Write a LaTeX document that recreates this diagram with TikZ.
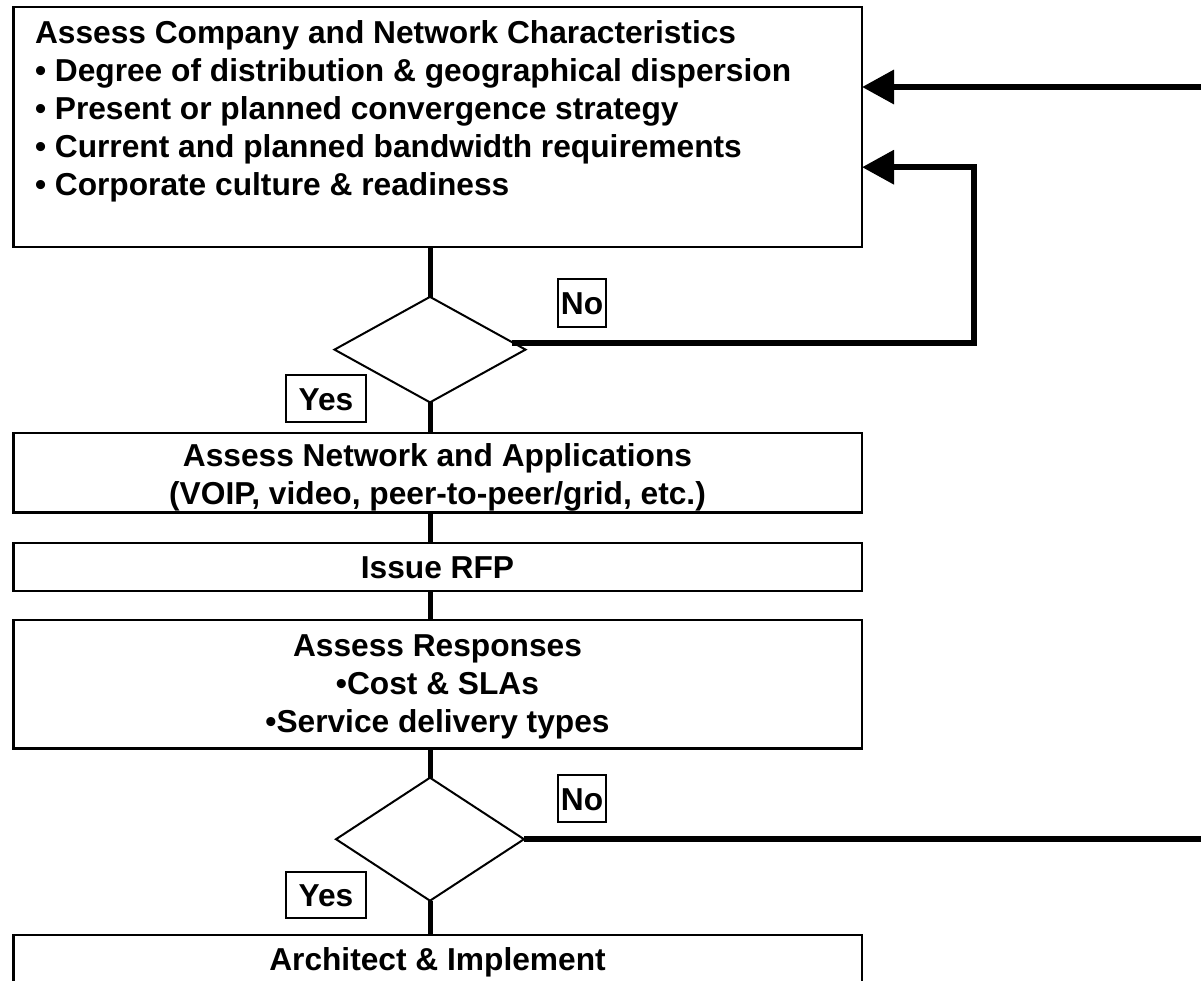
\documentclass[tikz,border=0pt]{standalone}
\usepackage{fontspec}
\setmainfont{Liberation Sans}
\usetikzlibrary{arrows.meta,shapes.geometric,calc}
\begin{document}
\begin{tikzpicture}[x=1pt,y=-1pt,
  box/.style={draw, line width=2.5pt, rectangle, inner sep=0pt, outer sep=0pt, anchor=north west},
  tag/.style={draw, line width=2pt, rectangle, inner sep=0pt, outer sep=0pt,
    font=\fontsize{31.7}{38}\selectfont\bfseries, text height=22.7pt, text depth=0pt},
  dia/.style={draw, line width=2pt, diamond, inner sep=0pt, outer sep=0pt},
  txt/.style={font=\fontsize{31.7}{38}\selectfont\bfseries, inner sep=0pt, outer sep=0pt},
  link/.style={line width=5pt},
  loopline/.style={line width=6.5pt, line join=miter},
  back/.style={loopline, -{Triangle[length=32pt,width=33pt]}},
]
\useasboundingbox (0,0) rectangle (1201,980);
\fill[white] (0,0) rectangle (1201,980);
\clip (0,0) rectangle (1201,980);

% boxes
\node[box, minimum width=848.5pt, minimum height=240.2pt] (b1) at (13.5,6.8) {};
\node[box, minimum width=848.5pt, minimum height=79.5pt] (b2) at (13.5,433) {};
\node[box, minimum width=848.5pt, minimum height=48pt] (b3) at (13.5,543) {};
\node[box, minimum width=848.5pt, minimum height=128.3pt] (b4) at (13.5,620) {};
\node[box, minimum width=848.5pt, minimum height=70pt] (b5) at (13.5,935) {};

% texts
\node[txt, align=left, anchor=north west] (t1) at (35,16.7)
  {\strut Assess Company and Network Characteristics\\
   \strut• Degree of distribution \& geographical dispersion\\
   \strut• Present or planned convergence strategy\\
   \strut• Current and planned bandwidth requirements\\
   \strut• Corporate culture \& readiness};
\node[txt, align=center, anchor=north] (t2) at (437.5,439.4)
  {\strut Assess Network and Applications\\
   \strut(VOIP, video, peer-to-peer/grid, etc.)};
\node[txt, anchor=base] (t3) at (437.5,578.3) {Issue RFP};
\node[txt, align=center, anchor=north] (t4) at (437.5,630.1)
  {\strut Assess Responses\\
   \strut•Cost \& SLAs\\
   \strut•Service delivery types};
\node[txt, anchor=base] (t5) at (437.5,970) {Architect \& Implement};

% decisions
\node[dia, minimum width=191pt, minimum height=105.5pt] (d1) at (430,349.6) {};
\node[dia, minimum width=188pt, minimum height=123pt] (d2) at (430,839.2) {};

% labels
\node[tag, minimum width=47.4pt, minimum height=47.4pt] (no1) at (582,303) {No};
\node[tag, minimum width=79.7pt, minimum height=47pt] (yes1) at (326,398.8) {Yes};
\node[tag, minimum width=47.4pt, minimum height=47pt] (no2) at (582,798.8) {No};
\node[tag, minimum width=79.7pt, minimum height=46.6pt] (yes2) at (326,895) {Yes};

% main flow
\draw[link] (b1.south -| d1.north) -- (d1.north);
\draw[link] (d1.south) -- (b2.north -| d1.south);
\draw[link] (b2.south -| d1.south) -- (b3.north -| d1.south);
\draw[link] (b3.south -| d1.south) -- (b4.north -| d1.south);
\draw[link] (b4.south -| d2.north) -- (d2.north);
\draw[link] (d2.south) -- (b5.north -| d2.south);

% loops
\coordinate (n1s) at ($(d1.east)+(-14,-6.5)$);
\coordinate (c1) at (974,167.2);
\coordinate (in1) at (1201,87);
\coordinate (out2) at (1201,839.2);
\draw[back] (in1) -- (in1 -| b1.east);
\draw[back] (n1s) -| (c1) -- (c1 -| b1.east);
\draw[loopline] (d2.east) -- (out2);
\end{tikzpicture}
\end{document}
